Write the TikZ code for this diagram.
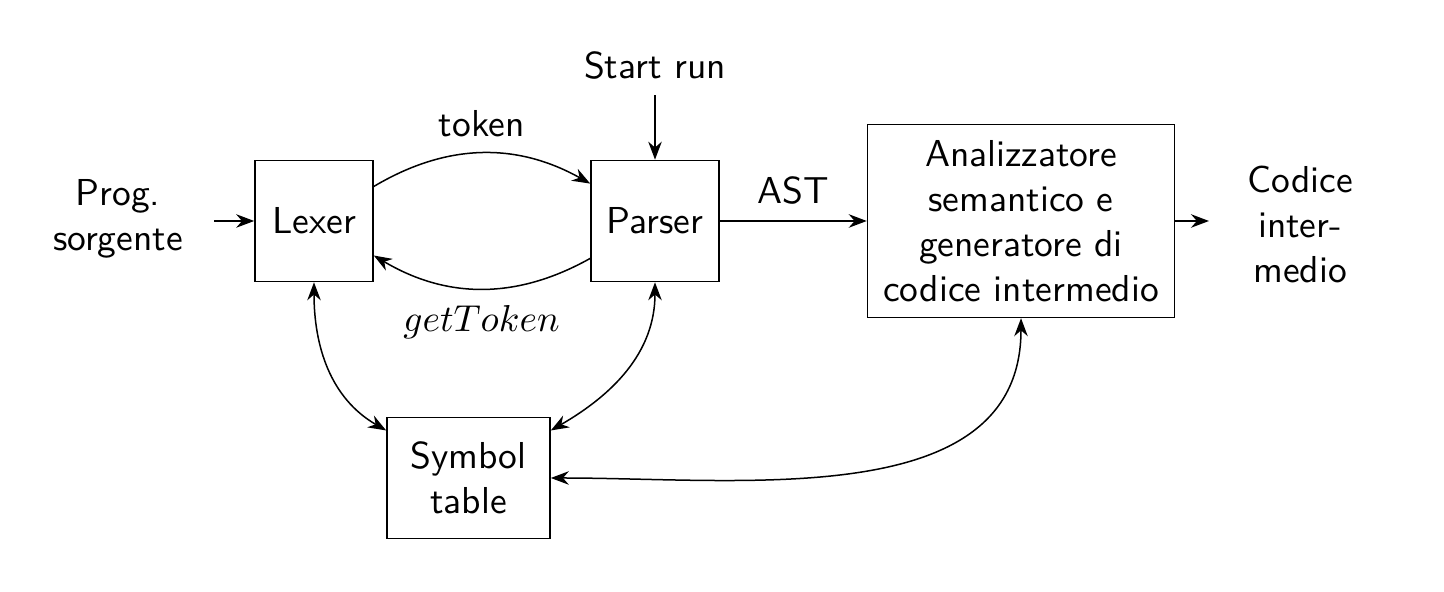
\documentclass[tikz,border=0pt]{standalone}
\usetikzlibrary{arrows.meta}
\begin{document}
\begin{tikzpicture}[x=0.266667pt, y=-0.266667pt, font=\sffamily, >={Stealth},
  every node/.style={inner sep=4.2pt},
  blk/.style={draw, minimum width=31.5pt, minimum height=32.3pt, align=center},
  lbl/.style={align=center}]
\useasboundingbox (0,0) rectangle (1444,592);
% blocks
\node[blk] (lexer) at (314,221) {Lexer};
\node[blk] (parser) at (655,221) {Parser};
\node[blk] (sem) at (1021,221) {Analizzatore\\semantico e\\generatore di\\codice intermedio};
\node[blk, minimum width=43.5pt] (sym) at (468.5,478) {Symbol\\table};
% free texts
\node[lbl] (prog) at (118,219) {Prog.\\sorgente};
\node[lbl] (out) at (1300,224) {Codice\\inter-\\medio};
\node (start) at (655,65) {Start run};
\coordinate (pin) at (214,221);
\coordinate (pout) at (1209,221);
% connectors
\draw[->] (pin) -- (lexer);
\draw[->] (start) -- (parser);
\draw[->] (lexer) to[bend left] node[above] {token} (parser);
\draw[->] (parser) to[bend left] node[below] {$getToken$} (lexer);
\draw[->] (parser) -- node[above] {AST} (sem);
\draw[->] (sem) -- (pout);
\draw[<->] (lexer) to[out=-90, in=150] (sym);
\draw[<->] (parser) to[out=-90, in=30] (sym);
\draw[<->] (sem) to[out=-90, in=0] (sym);
\end{tikzpicture}
\end{document}
